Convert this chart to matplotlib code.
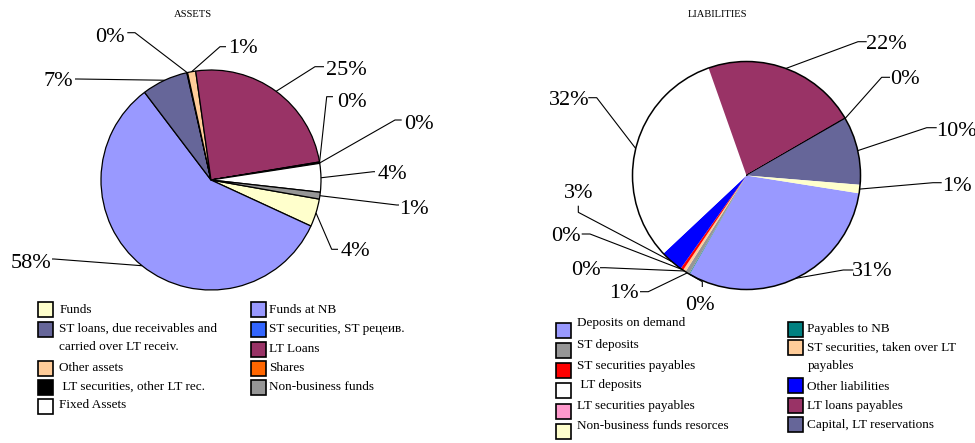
import matplotlib
matplotlib.use("Agg")
import numpy as np
import matplotlib.pyplot as plt
from matplotlib.patches import Rectangle, Circle

plt.rcParams['font.family'] = ['Liberation Serif', 'DejaVu Serif']

W, H = 975, 443

# ---------------- data ----------------
asset_labels = ["Funds", "Funds at NB",
                "ST loans, due receivables and\ncarried over LT receiv.",
                "ST securities, ST рецеив.", "Other assets", "LT Loans",
                " LT securities, other LT rec.", "Shares", "Fixed Assets",
                "Non-business funds"]
asset_values = [4.1, 57.8, 6.8, 0.1, 1.2, 24.6, 0.1, 0.1, 4.2, 1.0]
asset_colors = ["#FFFFCC", "#9999FF", "#666699", "#3366FF", "#FFCC99",
                "#993366", "#000000", "#FF6600", "#FFFFFF", "#969696"]

liab_labels = ["Deposits on demand", "Payables to NB", "ST deposits",
               "ST securities, taken over LT\npayables", "ST securities payables",
               "Other liabilities", " LT deposits", "LT loans payables",
               "LT securities payables", "Capital, LT reservations",
               "Non-business funds resorces"]
liab_values = [30.8, 0.1, 0.6, 0.4, 0.4, 3.2, 31.6, 22.0, 0.1, 9.6, 1.2]
liab_colors = ["#9999FF", "#008080", "#969696", "#FFCC99", "#FF0000",
               "#0000FF", "#FFFFFF", "#993366", "#FF99CC", "#666699", "#FFFFCC"]

# ---------------- layout (pixels, origin top-left) ----------------
asset_center, asset_radius = (211, 180), 110
liab_center, liab_radius = (746.5, 175.5), 114

asset_text_pos = [(355, 252), (31, 263), (58, 81.5), (110, 37), (243, 48.5),
                  (346, 70), (352, 102), (419, 124), (392, 174), (414, 209)]
asset_stubs = [((331.7, 249.3), (338, 249.3)), ((54, 259), (52, 259)),
               ((77, 79), (75, 79)), ((135, 32.7), (127.3, 32.7)),
               ((220, 46.7), (226, 46.7)), ((315, 66.7), (324, 66.7)),
               ((326.7, 96.7), (333, 96.7)), ((395, 120), (401.7, 120)),
               ((373.3, 171.7), (375, 171.7)), ((396.7, 205), (399, 205))]

liab_text_pos = [(872, 272), (700, 305), (624, 294), (585.5, 270.5),
                 (566.3, 236.7), (578.3, 193.3), (569, 100), (886, 44),
                 (905, 79), (956, 131), (957, 186)]
liab_stubs = [((843.3, 270), (853.3, 270)), ((702.3, 281.7), (702.3, 287)),
              ((648.3, 291.7), (640, 291.7)), ((605, 267.7), (600, 267.7)),
              ((590, 234), (581.7, 234)), ((578.3, 212.3), (578.3, 205.7)),
              ((596.7, 97.7), (588.3, 97.7)), ((858, 41.7), (866.7, 41.7)),
              ((881.7, 77.3), (890, 77.3)), ((926.7, 127.7), (936.7, 127.7)),
              ((933, 182.7), (941.7, 182.7))]

# legend: (column, box centre y, text centre y)
asset_legend_rows = [(0, 309, 310), (1, 309, 310), (0, 329, 328.5), (1, 329, 329),
                     (0, 368, 368), (1, 349, 348.5), (0, 387, 387), (1, 368, 368),
                     (0, 406, 405.5), (1, 387, 387)]
asset_legend_cols = [(38.3, 59.3), (250.7, 269.3)]   # (box left x, text x)

liab_legend_rows = [(0, 330, 323.3), (1, 329, 329), (0, 350, 345), (1, 347, 347.3),
                    (0, 370.5, 365.7), (1, 385.5, 386.7), (0, 390.5, 385),
                    (1, 405, 406), (0, 411, 405.7), (1, 424.5, 425), (0, 431.5, 426)]
liab_legend_cols = [(556, 577.3), (788.3, 807.3)]

BOX = 15
LINE_STEP = 18.3


def Y(y):
    return H - y


fig = plt.figure(figsize=(W / 100, H / 100), dpi=100)
ax = fig.add_axes([0, 0, 1, 1])


def draw_pie(values, colors, center, radius, start, edge_lw):
    wedges, _ = ax.pie(values, colors=colors, startangle=start, counterclock=False,
                       center=(center[0], Y(center[1])), radius=radius,
                       wedgeprops=dict(edgecolor='black', linewidth=edge_lw))
    return wedges


def draw_labels(wedges, values, center, radius, text_pos, stubs):
    total = float(sum(values))
    cx, cy = center[0], Y(center[1])
    for w, v, tp, (near, far) in zip(wedges, values, text_pos, stubs):
        mid = np.deg2rad((w.theta1 + w.theta2) / 2)
        ax_x, ax_y = cx + radius * np.cos(mid), cy + radius * np.sin(mid)
        ax.plot([ax_x, near[0], far[0]], [ax_y, Y(near[1]), Y(far[1])],
                color='black', lw=0.8, solid_capstyle='butt', zorder=3)
        ax.text(tp[0], Y(tp[1]), f"{v / total * 100:.0f}%", fontsize=16,
                ha='center', va='center', zorder=4)


def draw_legend(labels, colors, rows, cols):
    for lab, col, (c, yb, yt) in zip(labels, colors, rows):
        bx, tx = cols[c]
        ax.add_patch(Rectangle((bx, Y(yb) - BOX / 2), BOX, BOX, facecolor=col,
                               edgecolor='black', linewidth=1.2, zorder=3))
        for i, line in enumerate(lab.split('\n')):
            ax.text(tx, Y(yt + i * LINE_STEP), line, fontsize=9.5,
                    ha='left', va='center')


# Assets
aw = draw_pie(asset_values, asset_colors, asset_center, asset_radius, -10, 0.9)
draw_labels(aw, asset_values, asset_center, asset_radius, asset_text_pos, asset_stubs)
draw_legend(asset_labels, asset_colors, asset_legend_rows, asset_legend_cols)
ax.text(192.5, Y(14.3), "ASSETS", fontsize=7.6, ha='center', va='center')

# Liabilities: no inner borders except the thin LT securities slice
lw_ = draw_pie(liab_values, liab_colors, liab_center, liab_radius, -9, 0)
lw_[liab_labels.index("LT securities payables")].set_linewidth(0.9)
ax.add_patch(Circle((liab_center[0], Y(liab_center[1])), liab_radius, fill=False,
                    edgecolor='black', linewidth=1.1, zorder=2))
draw_labels(lw_, liab_values, liab_center, liab_radius, liab_text_pos, liab_stubs)
draw_legend(liab_labels, liab_colors, liab_legend_rows, liab_legend_cols)
ax.text(717, Y(14.3), "LIABILITIES", fontsize=7.6, ha='center', va='center')

ax.set_xlim(0, W)
ax.set_ylim(0, H)
ax.set_aspect('equal', adjustable='box')
ax.axis('off')

fig.savefig("out.png", dpi=100, facecolor='white')
